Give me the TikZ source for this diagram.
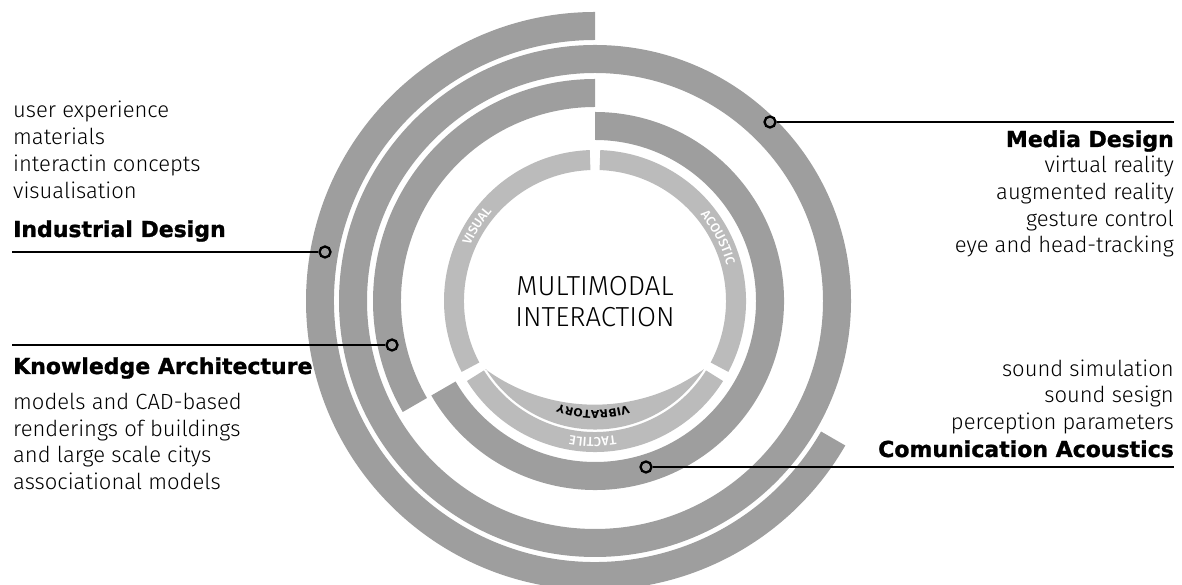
\documentclass[tikz,border=0pt]{standalone}
\usepackage{fontspec}
\usetikzlibrary{decorations.text}
\setmainfont{Fira Sans}[UprightFont={* Light},BoldFont={* Bold}]
\newfontfamily\headfont{DejaVu Sans}[BoldFeatures={FakeBold=1.3}]
\newfontfamily\vibfont{DejaVu Sans}
\newfontfamily\ringfont{Fira Sans}[UprightFont={* Medium},LetterSpace=5]
\definecolor{ringdark}{HTML}{9E9E9E}
\definecolor{ringlight}{HTML}{BBBBBB}
\newcommand\ringseg[5]{%
  \fill[#1] ([shift={(#4:#3)}]C) arc[start angle=#4,end angle=#5,radius=#3]
    -- ([shift={(#5:#2)}]C) arc[start angle=#5,end angle=#4,radius=#2] -- cycle;}
\tikzset{
  dot/.style={circle,draw=black,line width=2.3pt,minimum size=11pt,inner sep=0pt},
  conn/.style={draw=black,line width=2.5pt},
  body/.style={inner sep=0pt,font=\fontsize{22}{26}\selectfont},
  head/.style={inner sep=0pt,font=\headfont\bfseries\fontsize{22}{26}\selectfont},
  lw/.style={anchor=base west},
  le/.style={anchor=base east},
}
\begin{document}
\begin{tikzpicture}[x=1pt,y=1pt]
\useasboundingbox (0,0) rectangle (1182,585);
\coordinate (C) at (595,284);
% dark rings
\ringseg{ringdark}{261}{289}{90}{330}
\fill[ringdark,even odd rule] (C) circle[radius=256] (C) circle[radius=228];
\ringseg{ringdark}{194}{222}{90}{210}
\ringseg{ringdark}{161}{189}{-150}{90}
% light ring
\ringseg{ringlight}{131}{151}{92}{208}
\ringseg{ringlight}{131}{151}{-28}{88}
\ringseg{ringlight}{131}{151}{212}{328}
% inner crescent under VIBRATORY
\fill[ringlight] ([shift={(212:128.5)}]C) arc[start angle=212,end angle=328,radius=128.5]
  arc[start angle=-53.95,end angle=-126.05,radius=185.9] -- cycle;
% ring labels
\path[decorate,decoration={text along path,text align=center,text color=white,
  text={|\ringfont\fontsize{13}{15}\selectfont|VISUAL}}]
  ([shift={(177.5:136.5)}]C) arc[start angle=177.5,end angle=117.5,radius=136.5];
\path[decorate,decoration={text along path,text align=center,text color=white,
  text={|\ringfont\fontsize{13}{15}\selectfont|ACOUSTIC}}]
  ([shift={(57.4:136.5)}]C) arc[start angle=57.4,end angle=-2.6,radius=136.5];
\path[decorate,decoration={text along path,text align=center,text color=white,
  text={|\ringfont\fontsize{13}{15}\selectfont|TACTILE}}]
  ([shift={(299:136.5)}]C) arc[start angle=299,end angle=239,radius=136.5];
\path[decorate,decoration={text along path,text align=center,text color=black,
  text={|\vibfont\bfseries\fontsize{11}{13}\selectfont|VIBRATORY}}]
  ([shift={(299:109.5)}]C) arc[start angle=299,end angle=239,radius=109.5];
% centre title
\node[inner sep=0pt,anchor=base,font=\fontsize{27.5}{30}\selectfont] (t1) at (595,289) {MULTIMODAL};
\node[inner sep=0pt,anchor=base,font=\fontsize{27.5}{30}\selectfont] (t2) at (595,258) {INTERACTION};
% Industrial Design
\node[body,lw] (i1) at (13,467) {user experience};
\node[body,lw] (i2) at (13,440) {materials};
\node[body,lw] (i3) at (13,413) {interactin concepts};
\node[body,lw] (i4) at (13,386) {visualisation};
\node[head,lw] (ih) at (13,348) {Industrial Design};
\coordinate (is) at (12,333);
\node[dot] (id) at (325,333) {};
\draw[conn] (is) -- (id);
% Knowledge Architecture
\coordinate (ks) at (12,240);
\node[dot] (kd) at (392,240) {};
\draw[conn] (ks) -- (kd);
\node[head,lw] (kh) at (13,211) {Knowledge Architecture};
\node[body,lw] (k1) at (13,175) {models and CAD-based};
\node[body,lw] (k2) at (13,148) {renderings of buildings};
\node[body,lw] (k3) at (13,122) {and large scale citys};
\node[body,lw] (k4) at (13,95) {associational models};
% Media Design
\node[dot] (md) at (770,463) {};
\coordinate (me) at (1174,463);
\draw[conn] (md) -- (me);
\node[head,le] (mh) at (1174,438) {Media Design};
\node[body,le] (m1) at (1174,412) {virtual reality};
\node[body,le] (m2) at (1174,385) {augmented reality};
\node[body,le] (m3) at (1174,358) {gesture control};
\node[body,le] (m4) at (1174,332) {eye and head-tracking};
% Comunication Acoustics
\node[body,le] (c1) at (1174,208) {sound simulation};
\node[body,le] (c2) at (1174,182) {sound sesign};
\node[body,le] (c3) at (1174,155) {perception parameters};
\node[head,le] (ch) at (1174,128) {Comunication Acoustics};
\node[dot] (cd) at (646,118) {};
\coordinate (ce) at (1174,118);
\draw[conn] (cd) -- (ce);
\end{tikzpicture}
\end{document}
